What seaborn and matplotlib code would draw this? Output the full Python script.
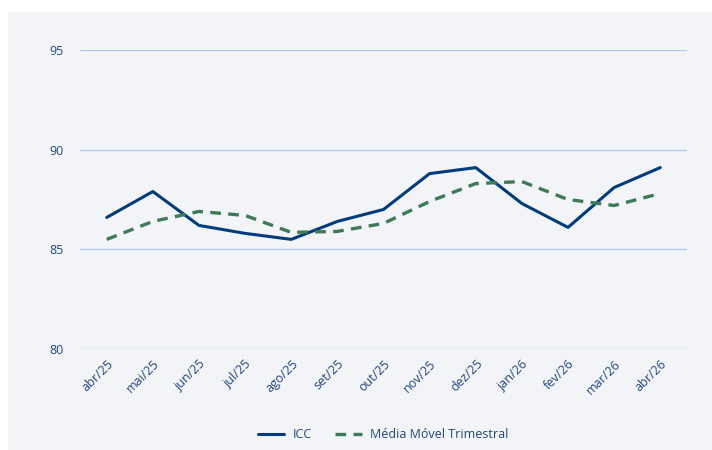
import matplotlib
matplotlib.use("Agg")
import matplotlib.pyplot as plt
import seaborn as sns
import pandas as pd
from matplotlib.patches import Rectangle

months = ["abr/25", "mai/25", "jun/25", "jul/25", "ago/25", "set/25", "out/25",
          "nov/25", "dez/25", "jan/26", "fev/26", "mar/26", "abr/26"]
icc = [86.6, 87.9, 86.2, 85.8, 85.5, 86.4, 87.0, 88.8, 89.1, 87.3, 86.1, 88.1, 89.1]
mm3 = [85.5, 86.4, 86.9, 86.7, 85.85, 85.9, 86.3, 87.4, 88.3, 88.4, 87.5, 87.2, 87.8]
yticks = [80, 85, 90, 95]

sns.set_theme(style="white")
plt.rcParams['font.family'] = ['Open Sans', 'DejaVu Sans']

bg = "#f2f4f8"
navy = "#003b7a"
green = "#3f7a56"
textc = "#23467d"
gridc = "#b2cbf5"

fig = plt.figure(figsize=(7.12, 4.5), dpi=100, facecolor="white")
fig.patches.append(Rectangle((8/712, 0), 1, 1 - 12/450, transform=fig.transFigure,
                             facecolor=bg, edgecolor="none", zorder=-5))
ax = fig.add_axes([80/712, 1 - 349/450, (687 - 80)/712, (349 - 50)/450])
ax.set_facecolor(bg)

df = pd.DataFrame({"x": list(range(len(months))) * 2,
                   "valor": icc + mm3,
                   "serie": ["ICC"] * len(months) + ["Média Móvel Trimestral"] * len(months)})

sns.lineplot(data=df[df.serie == "ICC"], x="x", y="valor", ax=ax, color=navy,
             linewidth=2.2, label="ICC")
sns.lineplot(data=df[df.serie != "ICC"], x="x", y="valor", ax=ax, color=green,
             linewidth=2.4, label="Média Móvel Trimestral",
             linestyle=(0, (3.2, 2.2)))

ax.set_ylim(80, 95)
ax.set_xlim(-0.58, len(months) - 1 + 0.58)
ax.set_yticks(yticks)
ax.set_xticks(range(len(months)))
ax.set_xticklabels(months, rotation=45, ha="right", rotation_mode="anchor")
ax.grid(axis="y", color=gridc, linewidth=1.0)
ax.set_axisbelow(True)
for s in ax.spines.values():
    s.set_visible(False)
ax.tick_params(axis="both", length=0, colors=textc, labelsize=9)
ax.tick_params(axis="y", pad=12)
ax.tick_params(axis="x", pad=6)
ax.set_xlabel("")
ax.set_ylabel("")

leg = ax.legend(loc="center", bbox_to_anchor=(383/712, 1 - 435/450), bbox_transform=fig.transFigure,
                ncol=2, frameon=False, fontsize=9, handlelength=2.1, columnspacing=1.9,
                handletextpad=0.65, labelcolor=textc)

fig.savefig("out.png", dpi=100, facecolor="white")
